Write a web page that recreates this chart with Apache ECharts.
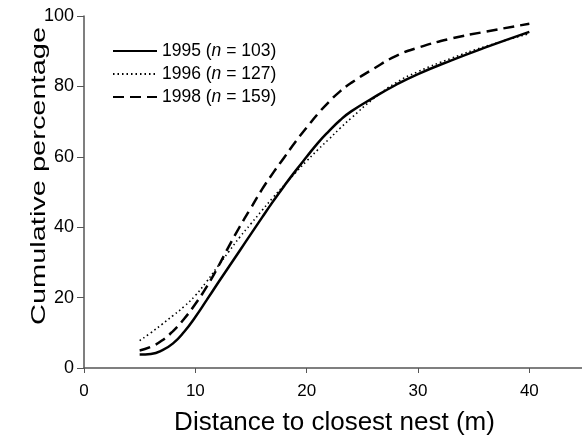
<!DOCTYPE html>
<html><head><meta charset="utf-8">
<script src="https://cdn.jsdelivr.net/npm/echarts@6/dist/echarts.min.js"></script>
<style>html,body{margin:0;padding:0;background:#fff}#c{width:582px;height:435px}</style>
</head><body><div id="c"></div>
<script>
const xs = [5,6,7,8,9,10,11,12,13,14,15,16,17,18,19,20,21,22,23,24,26,28,30,33,36,40];
const y1995 = [3.8,4.0,5.0,7.0,10.3,14.5,19.2,24.0,28.7,33.4,38.1,42.8,47.4,51.8,56.0,60.0,63.9,67.3,70.4,72.9,76.8,80.4,83.5,87.4,91.0,95.5];
const y1996 = [7.8,10.0,12.4,14.9,17.5,20.6,24.5,28.8,33.0,37.2,41.0,44.8,48.5,52.0,55.5,58.8,62.0,65.0,68.1,71.0,76.5,81.0,84.2,88.0,91.3,95.0];
const y1998 = [5.0,6.0,7.8,10.5,14.0,18.2,23.0,28.5,34.5,40.2,45.5,50.8,55.5,59.9,64.3,68.3,72.2,75.6,78.6,81.0,85.0,88.6,91.0,93.6,95.5,97.8];
const seriesNames = ['1995','1996','1998'];
const seriesN = ['103','127','159'];
const xTicks = [0,10,20,30,40];

const pair = (ys) => xs.map((x,i)=>[x, ys[i]]);
const font = 'Liberation Sans, Arial, Helvetica, sans-serif';
const chart = echarts.init(document.getElementById('c'), null, {renderer:'canvas'});
const mk = (name, ys, type, width) => ({
  name, type:'line', data: pair(ys), smooth: 0.5, symbol:'none',
  lineStyle:{color:'#000', width, type},
  itemStyle:{color:'#000'}
});
chart.setOption({
  animation:false,
  grid:{left:84, top:16, width:501, height:352, outerBoundsMode:'none', containLabel:false},
  legend:{
    orient:'vertical', left:107, top:37, itemWidth:44, itemHeight:12, itemGap:5,
    data: seriesNames,
    itemStyle:{color:'rgba(0,0,0,0)', borderWidth:0, opacity:0},
    formatter: (n)=>{const i=seriesNames.indexOf(n); return n+' ({i|n} = '+seriesN[i]+')';},
    textStyle:{fontFamily:font, fontSize:17.5, color:'#000',
      rich:{i:{fontStyle:'italic', fontFamily:font, fontSize:17.5, color:'#000'}}}
  },
  graphic:[{
    type:'text', x:39, y:176, rotation:Math.PI/2, scaleX:1.38,
    style:{text:'Cumulative percentage', fontFamily:font, fontSize:21, fill:'#000',
      align:'center', verticalAlign:'middle'}
  }],
  xAxis:{
    type:'value', min:0, max:45, interval:10,
    name:'Distance to closest nest (m)', nameLocation:'middle', nameGap:42,
    nameTextStyle:{fontFamily:font, fontSize:26, color:'#000'},
    axisLine:{lineStyle:{color:'#555', width:1.5}},
    axisTick:{show:true, length:5, lineStyle:{color:'#555'}, customValues:xTicks},
    axisLabel:{fontFamily:font, fontSize:17, color:'#000', margin:15, customValues:xTicks},
    splitLine:{show:false}
  },
  yAxis:{
    type:'value', min:0, max:100, interval:20,
    axisLine:{show:true, lineStyle:{color:'#555', width:1.5}},
    axisTick:{show:true, length:7, lineStyle:{color:'#555'}},
    axisLabel:{fontFamily:font, fontSize:18, color:'#000', margin:10},
    splitLine:{show:false}
  },
  series:[
    mk('1995', y1995, 'solid', 2.5),
    mk('1996', y1996, [1.5,3], 1.6),
    mk('1998', y1998, [11,6], 2.5)
  ]
});
</script></body></html>
